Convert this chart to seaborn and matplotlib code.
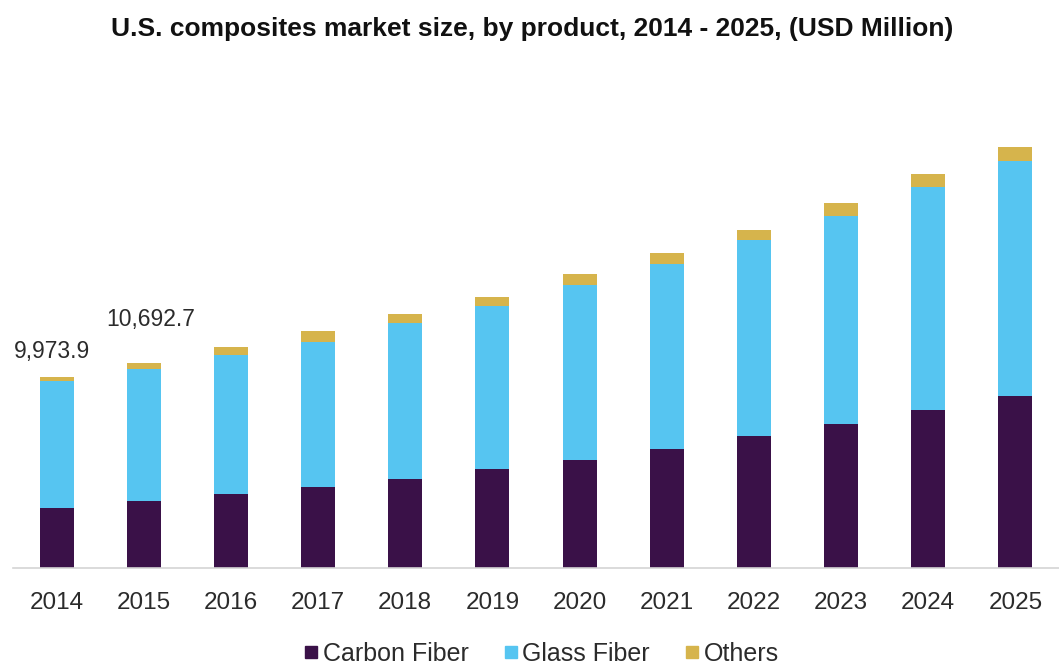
import matplotlib
matplotlib.use("Agg")
import matplotlib.pyplot as plt
from matplotlib.lines import Line2D
import seaborn as sns
import pandas as pd
import numpy as np

# U.S. composites market size by product (USD Million)
years = ["2014", "2015", "2016", "2017", "2018", "2019",
         "2020", "2021", "2022", "2023", "2024", "2025"]
carbon_fiber = [3150, 3480, 3892, 4224, 4666, 5192, 5628, 6244, 6875, 7522, 8274, 9010]
glass_fiber = [6640, 6900, 7222, 7595, 8116, 8521, 9168, 9657, 10257, 10872, 11646, 12277]
others = [183.9, 312.7, 442, 579, 473, 473, 563, 563, 558, 700, 663, 700]
labelled_years = ["2014", "2015"]

series_names = ["Carbon Fiber", "Glass Fiber", "Others"]
colors = {"Carbon Fiber": "#3a1148", "Glass Fiber": "#56c5f1", "Others": "#d6b44c"}

df = pd.DataFrame({"year": years, "Carbon Fiber": carbon_fiber,
                   "Glass Fiber": glass_fiber, "Others": others})
df["cum_carbon"] = df["Carbon Fiber"]
df["cum_glass"] = df["cum_carbon"] + df["Glass Fiber"]
df["total"] = df["cum_glass"] + df["Others"]

sns.set_theme(style="white")
plt.rcParams["font.family"] = ["Liberation Sans", "DejaVu Sans"]

fig = plt.figure(figsize=(10.59, 6.65), dpi=100)
ax = fig.add_axes([13 / 1059, 97 / 665, 1046 / 1059, 471 / 665])

bar_w = 0.39
# Stacked bars: draw cumulative heights from the top segment down
for col, name in [("total", "Others"), ("cum_glass", "Glass Fiber"),
                  ("cum_carbon", "Carbon Fiber")]:
    sns.barplot(data=df, x="year", y=col, color=colors[name], width=bar_w,
                saturation=1, linewidth=0, edgecolor="none", ax=ax)

ax.set_xlim(-0.5, 11.5)
ax.set_ylim(0, 24617)
ax.set_xlabel("")
ax.set_ylabel("")
ax.set_yticks([])
for side in ["top", "right", "left"]:
    ax.spines[side].set_visible(False)
ax.spines["bottom"].set_color("#d4d4d4")
ax.spines["bottom"].set_linewidth(1.2)
ax.tick_params(axis="x", length=0, pad=17.5, labelsize=17.5, labelcolor="#2b2b2b")

# Value labels for the first two years
offsets = {"2014": (-3, 18.5), "2015": (5, 31.5)}
for yr in labelled_years:
    i = years.index(yr)
    total = df.loc[i, "total"]
    dx, dy = offsets[yr]
    ax.annotate(f"{total:,.1f}", xy=(i, total), xytext=(dx, dy),
                textcoords="offset points", ha="center", va="center",
                fontsize=16.5, color="#2b2b2b")

fig.text(0.503, 0.957, "U.S. composites market size, by product, 2014 - 2025, (USD Million)",
         ha="center", va="center", fontsize=19, fontweight="bold", color="#111111")

handles = [Line2D([0], [0], marker="s", linestyle="", markersize=8,
                  markerfacecolor=colors[n], markeredgecolor=colors[n], label=n)
           for n in series_names]
fig.legend(handles=handles, loc="center", bbox_to_anchor=(0.51, 0.017), ncol=3,
           frameon=False, fontsize=18, handletextpad=0.05, columnspacing=1.3,
           handlelength=0.8, labelcolor="#2b2b2b")

fig.savefig("out.png", dpi=100)
